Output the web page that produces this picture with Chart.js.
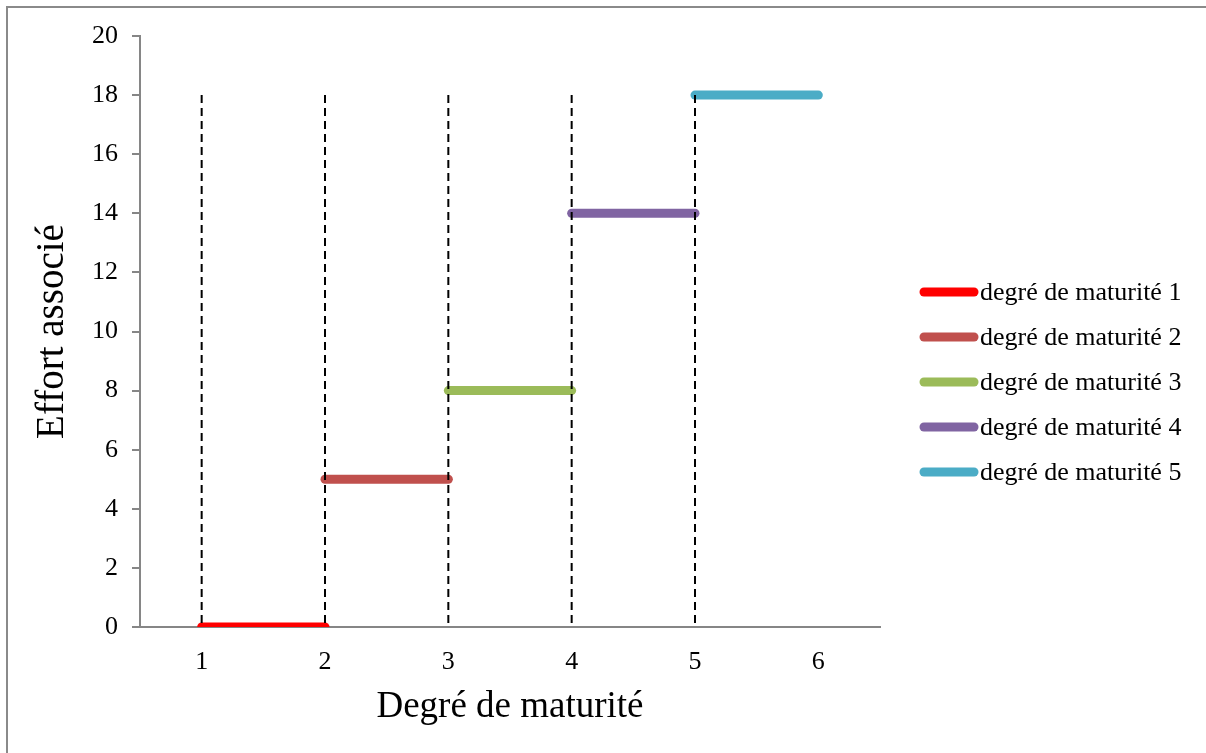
<!DOCTYPE html>
<html>
<head>
<meta charset="utf-8">
<script src="https://cdn.jsdelivr.net/npm/chart.js@4.4.1/dist/chart.umd.min.js"></script>
<style>
  html, body { margin: 0; padding: 0; background: #fff; }
  #wrap { position: relative; width: 1206px; height: 753px; overflow: hidden; }
  #frame { position: absolute; left: 6px; top: 6px; right: 0; bottom: 0; border-left: 2px solid #8a8a8a; border-top: 2px solid #8a8a8a; }
  #chart { position: absolute; left: 0; top: 0; }
</style>
</head>
<body>
<div id="wrap">
  <div id="frame"></div>
  <canvas id="chart" width="1206" height="753"></canvas>
</div>
<script>
const levels = ['degré de maturité 1', 'degré de maturité 2', 'degré de maturité 3', 'degré de maturité 4', 'degré de maturité 5'];
const levelStart = [1, 2, 3, 4, 5];
const levelEnd = [2, 3, 4, 5, 6];
const effort = [0, 5, 8, 14, 18];
const levelColors = ['#ff0000', '#c0504d', '#9bbb59', '#8064a2', '#4bacc6'];
const guideX = [1, 2, 3, 4, 5];
const guideTop = 18;
const xTicks = [1, 2, 3, 4, 5, 6];

const serif = '"Liberation Serif", "Times New Roman", serif';

const levelSets = levels.map((label, i) => ({
  label,
  data: [{ x: levelStart[i], y: effort[i] }, { x: levelEnd[i], y: effort[i] }],
  borderColor: levelColors[i],
  borderWidth: 9,
  borderCapStyle: 'round',
  pointRadius: 0,
  order: 1
}));

// dashed guides, drawn top-down so the dash pattern starts at 18
const guideSets = guideX.map((x) => ({
  label: '',
  guide: true,
  data: [{ x, y: guideTop }, { x, y: 0 }],
  borderColor: '#000',
  borderWidth: 2,
  borderDash: [8, 5],
  pointRadius: 0,
  order: -1
}));

// legend drawn by hand so the sample line and text sit where they do in the picture
const sideLegend = {
  id: 'sideLegend',
  afterDraw(chart) {
    const ctx = chart.ctx;
    ctx.save();
    ctx.font = '26px ' + serif;
    ctx.textBaseline = 'middle';
    ctx.fillStyle = '#000';
    chart.data.datasets.filter((d) => !d.guide).forEach((d, i) => {
      const y = 292 + i * 45;
      ctx.strokeStyle = d.borderColor;
      ctx.lineWidth = 9;
      ctx.lineCap = 'round';
      ctx.beginPath();
      ctx.moveTo(924, y);
      ctx.lineTo(974, y);
      ctx.stroke();
      ctx.fillText(d.label, 980, y + 1);
    });
    ctx.restore();
  }
};

new Chart(document.getElementById('chart'), {
  type: 'line',
  data: { datasets: [...levelSets, ...guideSets] },
  plugins: [sideLegend],
  options: {
    responsive: false,
    animation: false,
    layout: { padding: { top: 36, right: 326, bottom: 0, left: 0 } },
    plugins: { legend: { display: false }, tooltip: { enabled: false } },
    scales: {
      x: {
        type: 'linear',
        min: 0.5,
        max: 6.5,
        afterBuildTicks: (scale) => { scale.ticks = xTicks.map((v) => ({ value: v })); },
        afterFit: (scale) => { scale.height = 126; },
        grid: { display: false },
        border: { display: true, color: '#868686', width: 2 },
        ticks: { color: '#000', font: { family: serif, size: 26 }, padding: 12 },
        title: { display: true, text: 'Degré de maturité', color: '#000', font: { family: serif, size: 37 }, padding: { bottom: 24 } }
      },
      y: {
        min: 0,
        max: 20,
        afterFit: (scale) => { scale.width = 140; },
        grid: { drawOnChartArea: false, color: '#868686', lineWidth: 2, tickLength: 8 },
        border: { display: true, color: '#868686', width: 2 },
        ticks: { stepSize: 2, color: '#000', font: { family: serif, size: 26 }, padding: 14 },
        title: { display: true, text: 'Effort associé', color: '#000', font: { family: serif, size: 39 }, padding: { top: 29 } }
      }
    }
  }
});
</script>
</body>
</html>
